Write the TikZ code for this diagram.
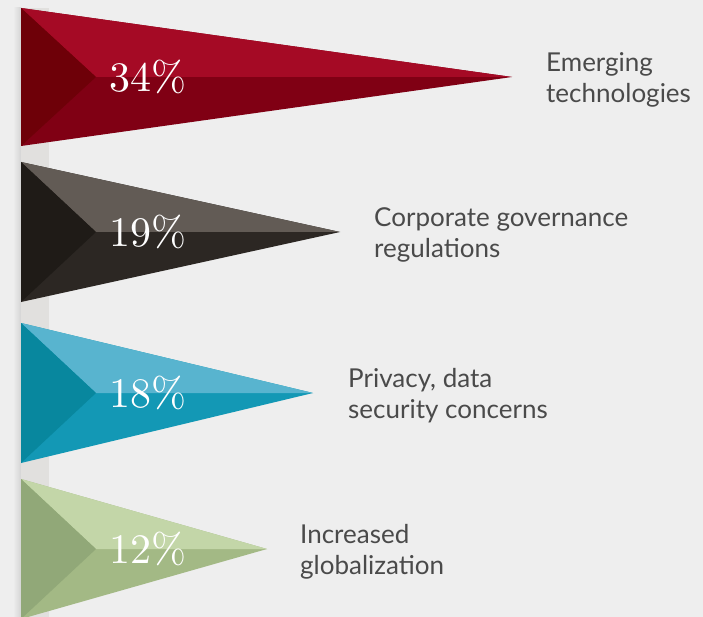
\documentclass[tikz,border=0pt]{standalone}
\usepackage{fontspec}
\newfontfamily\labelfont{Lato}
\newfontfamily\pctfont{lmroman10-regular.otf}
\usetikzlibrary{positioning}
\definecolor{bgcol}{HTML}{EEEEEE}
\definecolor{barcol}{HTML}{E1E0DE}
\definecolor{txtcol}{HTML}{4A4A4A}
\definecolor{redup}{HTML}{A50A25}
\definecolor{redlow}{HTML}{800014}
\definecolor{redleft}{HTML}{6E0008}
\definecolor{greyup}{HTML}{625B55}
\definecolor{greylow}{HTML}{2C2723}
\definecolor{greyleft}{HTML}{1F1B17}
\definecolor{tealup}{HTML}{58B4CF}
\definecolor{teallow}{HTML}{1398B5}
\definecolor{tealleft}{HTML}{08879E}
\definecolor{greenup}{HTML}{C3D6A8}
\definecolor{greenlow}{HTML}{A3B985}
\definecolor{greenleft}{HTML}{91A878}
\tikzset{pct/.style={text=white, inner sep=0pt, font=\pctfont\fontsize{42}{42}\selectfont},
         lbl/.style={text=txtcol, inner sep=0pt, yshift=-3pt, align=left, font=\labelfont\fontsize{26}{31}\selectfont}}

\begin{document}
\begin{tikzpicture}[x=1pt,y=-1pt]
   \fill[bgcol] (0,0) rectangle (703,617);
   \useasboundingbox (0,0) rectangle (703,617);
   % bar behind the pennants
   \shade[left color=bgcol, right color=black!17] (13,8) rectangle (21,617);
   \fill[barcol] (21,8) rectangle (49,617);
   \begin{scope}[shift={(0,77)}]
    \fill[redlow]  (21,-69) -- (512,0) -- (21,69) -- cycle;
    \fill[redup]   (21,-69) -- (512,0) -- (96,0) -- cycle;
    \fill[redleft] (21,-69) -- (96,0) -- (21,69) -- cycle;
    \node[pct] (p1) at (148,0) {34\%};
    \coordinate (t1) at (512,0);
    \node[lbl,right=34pt of t1] (l1) {Emerging\\technologies};
   \end{scope}
   \begin{scope}[shift={(0,232)}]
    \fill[greylow]  (21,-70) -- (340,0) -- (21,70) -- cycle;
    \fill[greyup]   (21,-70) -- (340,0) -- (96,0) -- cycle;
    \fill[greyleft] (21,-70) -- (96,0) -- (21,70) -- cycle;
    \node[pct] (p2) at (148,0) {19\%};
    \coordinate (t2) at (340,0);
    \node[lbl,right=34pt of t2] (l2) {Corporate governance\\regulations};
   \end{scope}
   \begin{scope}[shift={(0,393)}]
    \fill[teallow]  (21,-70) -- (313,0) -- (21,70) -- cycle;
    \fill[tealup]   (21,-70) -- (313,0) -- (96,0) -- cycle;
    \fill[tealleft] (21,-70) -- (96,0) -- (21,70) -- cycle;
    \node[pct] (p3) at (148,0) {18\%};
    \coordinate (t3) at (313,0);
    \node[lbl,right=35pt of t3] (l3) {Privacy, data\\security concerns};
   \end{scope}
   \begin{scope}[shift={(0,549)}]
    \fill[greenlow]  (21,-70) -- (267,0) -- (21,70) -- cycle;
    \fill[greenup]   (21,-70) -- (267,0) -- (96,0) -- cycle;
    \fill[greenleft] (21,-70) -- (96,0) -- (21,70) -- cycle;
    \node[pct] (p4) at (148,0) {12\%};
    \coordinate (t4) at (267,0);
    \node[lbl,right=33pt of t4] (l4) {Increased\\globalization};
   \end{scope}
  \end{tikzpicture}
\end{document}
